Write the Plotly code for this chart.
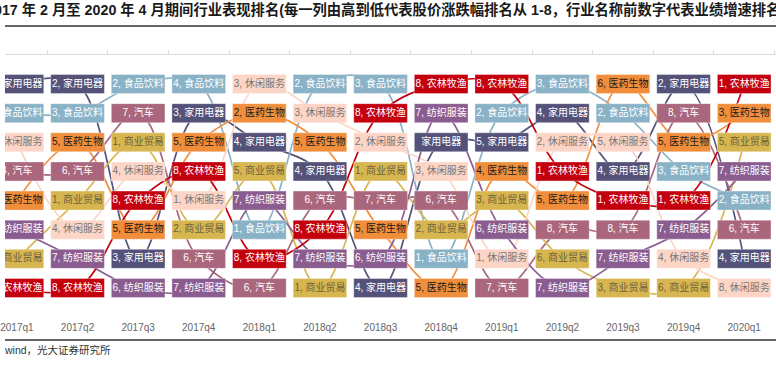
import plotly.graph_objects as go

# ---------------- data ----------------
quarters = ['2017q1', '2017q2', '2017q3', '2017q4', '2018q1', '2018q2', '2018q3',
            '2018q4', '2019q1', '2019q2', '2019q3', '2019q4', '2020q1']

industries = ['家用电器', '食品饮料', '医药生物', '汽车', '商业贸易', '休闲服务', '纺织服装', '农林牧渔']

# price-change rank (row, 1 = top) per quarter
price_home    = [1, 1, 7, 2, 3, 4, 8, 3, 3, 2, 4, 1, 7]
price_food    = [2, 2, 1, 1, 6, 1, 1, 7, 2, 1, 2, 4, 5]
price_pharma  = [5, 3, 6, 3, 2, 3, 6, 8, 4, 5, 1, 3, 2]
price_auto    = [4, 4, 2, 7, 8, 5, 5, 5, 8, 6, 6, 2, 6]
price_retail  = [7, 5, 3, 6, 4, 8, 4, 6, 5, 7, 8, 8, 3]
price_leisure = [3, 6, 4, 5, 1, 2, 3, 4, 7, 3, 3, 7, 8]
price_textile = [6, 7, 8, 8, 5, 7, 7, 2, 6, 8, 7, 6, 4]
price_agri    = [8, 8, 5, 4, 7, 6, 2, 1, 1, 4, 5, 5, 1]

# earnings-growth rank (number in front of the name)
growth_home    = [2, 2, 3, 3, 4, 4, 4, None, 5, 4, 4, 2, 4]
growth_food    = [3, 3, 2, 4, 1, 2, 3, 1, 2, 3, 2, 3, 2]
growth_pharma  = [5, 5, 5, 5, 2, 5, 5, 5, 4, 5, 6, 5, 3]
growth_auto    = [4, 6, 7, 6, 6, 6, 7, 6, 7, 8, 8, 8, 6]
growth_retail  = [7, 1, 1, 2, 5, 1, 1, 2, 3, 6, 3, 6, 5]
growth_leisure = [1, 4, 4, 1, 3, 3, 2, 3, 1, 2, 5, 4, 8]
growth_textile = [6, 7, 6, 7, 7, 7, 6, 7, 6, 7, 7, 7, 7]
growth_agri    = [8, 8, 8, 8, 8, 8, 8, 8, 8, 1, 1, 1, 1]

price_rank = dict(zip(industries, [price_home, price_food, price_pharma, price_auto,
                                   price_retail, price_leisure, price_textile, price_agri]))
growth_rank = dict(zip(industries, [growth_home, growth_food, growth_pharma, growth_auto,
                                    growth_retail, growth_leisure, growth_textile, growth_agri]))

# ---------------- style ----------------
colors = {'家用电器': '#55527a', '食品饮料': '#8ab2c7', '医药生物': '#f08e3c', '汽车': '#a9667c',
          '商业贸易': '#d7b650', '休闲服务': '#fdd5c6', '纺织服装': '#8b5c90', '农林牧渔': '#c4000f'}
text_colors = {'家用电器': '#ffffff', '食品饮料': '#ffffff', '医药生物': '#1a1a1a', '汽车': '#ffffff',
               '商业贸易': '#6a6040', '休闲服务': '#777777', '纺织服装': '#ffffff', '农林牧渔': '#ffffff'}
FONT = 'Liberation Sans, Noto Sans CJK SC, sans-serif'

W, H = 776, 365
T_PX, B_PX = 55, 320          # plot area top / bottom in pixels
PLOT_H = B_PX - T_PX
x_range = [-12 / 61, (W - 12) / 61]
row_px = (288 - 84) / 7
y_top = 1 - (84 - T_PX) / row_px
y_range = [y_top + PLOT_H / row_px, y_top]
box_w = 54 / 61
box_h = 19 / row_px

def py(px):
    return (B_PX - px) / PLOT_H

xs = list(range(len(quarters)))
fig = go.Figure()

# connecting curves (base subplot, below the boxes)
for name in industries:
    fig.add_trace(go.Scatter(x=xs, y=price_rank[name], mode='lines',
                             line=dict(color=colors[name], width=1.7, shape='spline', smoothing=1),
                             hoverinfo='skip', showlegend=False))

# boxes (overlay subplot)
for name in industries:
    fig.add_trace(go.Bar(x=xs, y=[box_h] * len(xs),
                         base=[r - box_h / 2 for r in price_rank[name]],
                         width=box_w,
                         marker=dict(color=colors[name], line=dict(color='rgba(255,255,255,0.35)', width=1)),
                         xaxis='x2', yaxis='y2', hoverinfo='skip', showlegend=False))

# labels
lx, ly, lt, lc = [], [], [], []
for name in industries:
    for i, q in enumerate(quarters):
        g = growth_rank[name][i]
        lx.append(i)
        ly.append(price_rank[name][i])
        lt.append(f'{g}, {name}' if g is not None else name)
        lc.append(text_colors[name])
fig.add_trace(go.Scatter(x=lx, y=ly, mode='text', text=lt,
                         textfont=dict(size=10, color=lc, family=FONT),
                         textposition='middle center',
                         xaxis='x2', yaxis='y2', hoverinfo='skip', showlegend=False))

fig.update_layout(
    width=W, height=H,
    margin=dict(l=0, r=0, t=T_PX, b=H - B_PX),
    paper_bgcolor='white', plot_bgcolor='white',
    barmode='overlay', showlegend=False,
    xaxis=dict(range=x_range, tickmode='array', tickvals=xs, ticktext=quarters,
               showgrid=False, zeroline=False, showline=False, ticks='',
               ticklabeloverflow='allow',
               tickfont=dict(size=10, color='#666666', family=FONT)),
    yaxis=dict(range=y_range, visible=False),
    xaxis2=dict(range=x_range, overlaying='x', anchor='y2', side='top', showline=True,
                linecolor='#dcdcdc', linewidth=1, ticks='outside', ticklen=4, tickcolor='#dcdcdc',
                tickmode='array', tickvals=[i - 0.5 for i in range(len(quarters) + 1)],
                showticklabels=False, showgrid=False, zeroline=False),
    yaxis2=dict(range=y_range, overlaying='y', visible=False),
    shapes=[
        dict(type='line', xref='paper', yref='paper', x0=0, x1=1, y0=py(26), y1=py(26),
             line=dict(color='#333333', width=1.5)),
        dict(type='line', xref='paper', yref='paper', x0=0, x1=1, y0=py(340), y1=py(340),
             line=dict(color='#333333', width=1.5)),
    ],
    annotations=[
        dict(text='<b>2017 年 2 月至 2020 年 4 月期间行业表现排名(每一列由高到低代表股价涨跌幅排名从 1-8，行业名称前数字代表业绩增速排名)</b>',
             xref='paper', yref='paper', x=-21 / W, y=py(9), xanchor='left', yanchor='middle',
             showarrow=False, font=dict(size=14.3, color='#1a1a1a', family=FONT)),
        dict(text='wind，光大证券研究所', xref='paper', yref='paper', x=-3 / W, y=py(350),
             xanchor='left', yanchor='middle', showarrow=False,
             font=dict(size=10.5, color='#333333', family=FONT)),
    ],
)

fig.write_html('out.html', config={'displayModeBar': False},
               post_script="document.body.style.margin='0px';")
